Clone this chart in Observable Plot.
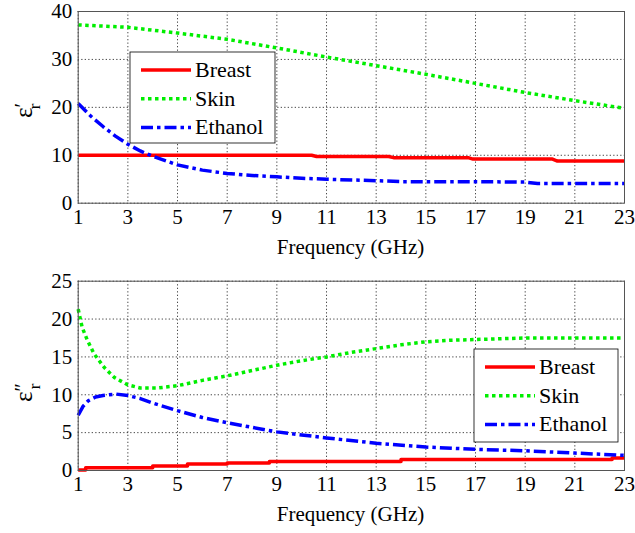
<!DOCTYPE html>
<html><head><meta charset="utf-8">
<script src="https://cdn.jsdelivr.net/npm/d3@7"></script>
<script src="https://cdn.jsdelivr.net/npm/@observablehq/plot@0.6"></script>
<style>html,body{margin:0;padding:0;background:#fff}#c svg{display:block}</style>
</head><body><div id="c"></div>
<script>
// ---- data ----
const xTicks = [1,3,5,7,9,11,13,15,17,19,21,23];
const yTicksTop = [0,10,20,30,40];
const yTicksBottom = [0,5,10,15,20,25];
const seriesNames = ["Breast","Skin","Ethanol"];

// Top panel: real part (eps')
const breastRealF = [1,10.4,10.6,13.5,13.7,16.7,16.9,20.1,20.3,23];
const breastReal  = [10,10,9.75,9.75,9.5,9.5,9.2,9.2,8.8,8.8];
const skinRealF = [1,3,5,7,9,11,13,15,17,19,21,23];
const skinReal  = [37.2,36.7,35.5,34.2,32.4,30.5,28.7,26.9,25.0,23.1,21.4,19.8];
const ethanolRealF = [1,1.5,2,2.5,3,3.5,4,5,6,7,8,9,10,11,13,14,15,17,19,19.5,21,23];
const ethanolReal  = [20.8,18.2,16.0,14.0,12.3,10.9,9.8,8.0,6.9,6.2,5.8,5.5,5.2,5.0,4.7,4.5,4.5,4.5,4.4,4.1,4.1,4.1];

// Bottom panel: imaginary part (eps'')
const breastImagF = [1,1.3,4,5.4,7,8.7,14,22.5,23];
const breastImag  = [0.05,0.35,0.6,0.85,1.0,1.2,1.45,1.65,1.65];
const skinImagF = [1,1.16,1.37,1.64,2.05,2.45,3,3.5,4.2,5,6,7,8,9,10,11,12,13,14,15,16,17,18,19,20,21,22,23];
const skinImag  = [21.3,18.9,17.2,15.4,13.6,12.3,11.3,10.9,10.9,11.2,11.9,12.5,13.2,13.9,14.5,15.0,15.6,16.1,16.6,17.0,17.2,17.3,17.4,17.5,17.5,17.5,17.5,17.5];
const ethanolImagF = [1,1.2,1.4,1.7,2,2.5,3,3.5,4,5,6,7,8,9,10,11,13,15,17,19,21,23];
const ethanolImag  = [7.3,8.5,9.2,9.7,9.9,10.1,9.9,9.5,8.9,7.9,7.0,6.3,5.7,5.1,4.7,4.3,3.6,3.1,2.8,2.6,2.3,2.0];

// ---- styles ----
const FONT = "Liberation Serif";
const styles = {
  Breast:  {stroke:"#ff0000", strokeDasharray:null},
  Skin:    {stroke:"#00ee00", strokeDasharray:"3.5,3.5"},
  Ethanol: {stroke:"#0000ff", strokeDasharray:"12,4,3.5,4"}
};
const toRows = (F, V) => F.map((f,i)=>({f, v:V[i]}));

function panel({height, marginTop, marginBottom, yDomain, yTicks, data, curves, legendBox, labelMark, labelPos}) {
  const gridOpts = {stroke:"#000", strokeOpacity:0.9, strokeWidth:0.8, strokeDasharray:"1.3,2.2"};
  const marks = [
    Plot.gridX(xTicks, gridOpts),
    Plot.gridY(yTicks, gridOpts),
    ...seriesNames.map(n => Plot.line(data[n], {x:"f", y:"v", stroke: styles[n].stroke, strokeWidth:3.5,
        strokeDasharray: styles[n].strokeDasharray, curve: curves[n] || "linear", strokeLinecap:"butt"})),
    Plot.frame({stroke:"#555", strokeWidth:1}),
    Plot.axisX(xTicks, {tickSize:0, tickPadding:6, label:null}),
    Plot.axisY(yTicks, {tickSize:0, tickPadding:6, label:null})
  ];
  const chart = Plot.plot({
    width:635, height, marginLeft:77.7, marginRight:11, marginTop, marginBottom,
    x:{domain:[1,23]}, y:{domain:yDomain},
    style:"font-family: Liberation Serif; font-size: 21px; background: #fff; color: #000; overflow: visible;",
    marks
  });
  const svg = d3.select(chart).attr("font-family", FONT);
  // x label
  svg.append("text").attr("x", 350.5).attr("y", height - marginBottom + 51)
    .attr("text-anchor","middle").attr("font-size",21).attr("fill","#000")
    .text("Frequency (GHz)");
  // y label
  const yl = svg.append("text").attr("transform",`translate(${labelPos[0]},${labelPos[1]}) rotate(-90)`)
    .attr("fill","#000").attr("font-size",25).attr("text-anchor","start");
  yl.append("tspan").text("ε");
  yl.append("tspan").attr("font-size",20).attr("dy",-3).text(labelMark);
  yl.append("tspan").attr("font-size",17).attr("dx",-6).attr("dy",11).text("r");
  // legend
  const [lx, ly, lw, lh] = legendBox;
  const g = svg.append("g");
  g.append("rect").attr("x",lx).attr("y",ly).attr("width",lw).attr("height",lh)
    .attr("fill","#fff").attr("stroke","#000").attr("stroke-width",0.8);
  seriesNames.forEach((n,i) => {
    const yy = ly + 18 + i*28.7;
    g.append("line").attr("x1",lx+11).attr("x2",lx+61).attr("y1",yy).attr("y2",yy)
      .attr("stroke",styles[n].stroke).attr("stroke-width",3.5)
      .attr("stroke-dasharray",styles[n].strokeDasharray);
    g.append("text").attr("x",lx+65).attr("y",yy+7).attr("font-size",22)
      .attr("text-anchor","start").attr("fill","#000").text(n);
  });
  svg.selectAll("text, tspan").attr("font-family", FONT).style("font-family", FONT);
  return chart;
}

const topChart = panel({
  height:262, marginTop:11, marginBottom:59.3, yDomain:[0,40], yTicks:yTicksTop,
  data:{Breast:toRows(breastRealF,breastReal), Skin:toRows(skinRealF,skinReal), Ethanol:toRows(ethanolRealF,ethanolReal)},
  curves:{}, legendBox:[130,52,145,91], labelMark:"′", labelPos:[32,118]
});
const bottomChart = panel({
  height:271, marginTop:18.7, marginBottom:63, yDomain:[0,25], yTicks:yTicksBottom,
  data:{Breast:toRows(breastImagF,breastImag), Skin:toRows(skinImagF,skinImag), Ethanol:toRows(ethanolImagF,ethanolImag)},
  curves:{Breast:"step-after"}, legendBox:[474,87,144,93], labelMark:"″", labelPos:[32,140]
});
document.getElementById("c").append(topChart, bottomChart);
</script>
</body></html>
